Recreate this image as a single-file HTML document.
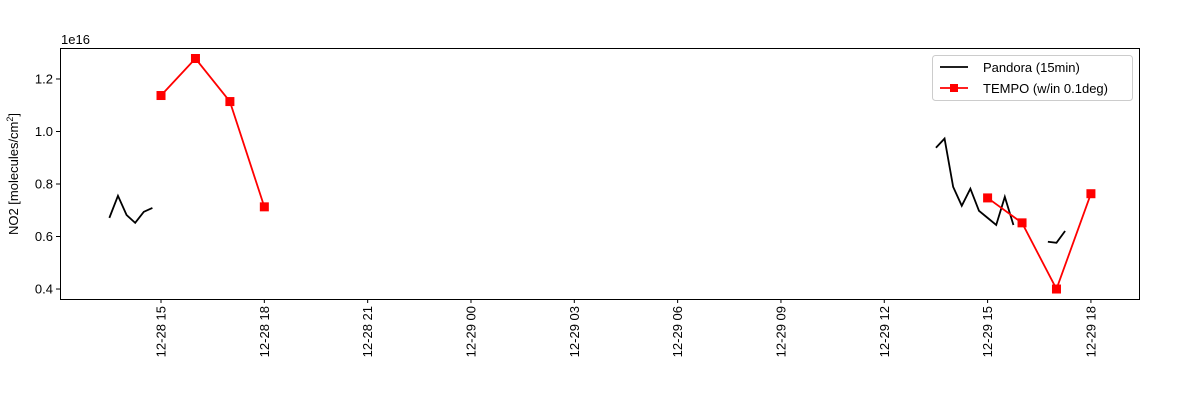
<!DOCTYPE html>
<html><head><meta charset="utf-8"><style>
html,body{margin:0;padding:0;background:#fff}
svg{display:block;font-family:"Liberation Sans","DejaVu Sans",sans-serif}
</style></head><body>
<svg id="chart" width="1200" height="400" viewBox="0 0 1200 400" xmlns="http://www.w3.org/2000/svg">
<rect x="0" y="0" width="1200" height="400" fill="#fff"/>
<g id="plot"></g>
<rect x="60.5" y="48.5" width="1079" height="251" fill="none" stroke="#000" stroke-width="1"/>
<text x="61" y="44" font-size="13">1e16</text>
<text transform="translate(18,174) rotate(-90)" text-anchor="middle" font-size="13">NO2 [molecules/cm<tspan dy="-5" font-size="9">2</tspan><tspan dy="5">]</tspan></text>
<g>
<rect x="932.5" y="55.5" width="200" height="45" rx="3" fill="#fff" fill-opacity="0.8" stroke="#ccc"/>
<line x1="940" y1="67" x2="968" y2="67" stroke="#000" stroke-width="1.8"/>
<text x="983" y="72" font-size="13">Pandora (15min)</text>
<line x1="940" y1="88" x2="968" y2="88" stroke="#f00" stroke-width="1.8"/>
<rect x="950" y="84" width="8" height="8" fill="#f00"/>
<text x="983" y="93" font-size="13">TEMPO (w/in 0.1deg)</text>
</g>
</svg>
<script>
// time in hours since 12-28 00:00; values in 1e16 molecules/cm2
const pandoraSeg1Times=[13.5,13.75,14,14.25,14.5,14.75];
const pandoraSeg1Values=[0.671,0.755,0.682,0.652,0.694,0.709];
const pandoraSeg2Times=[37.5,37.75,38,38.25,38.5,38.75,39,39.25,39.5,39.75];
const pandoraSeg2Values=[0.938,0.973,0.789,0.717,0.782,0.698,0.671,0.644,0.751,0.644];
const pandoraSeg3Times=[40.75,41,41.25];
const pandoraSeg3Values=[0.580,0.576,0.621];
const tempoSeg1Times=[15,16,17,18];
const tempoSeg1Values=[1.137,1.278,1.114,0.713];
const tempoSeg2Times=[39,40,41,42];
const tempoSeg2Values=[0.747,0.652,0.400,0.763];
const yTickValues=[0.4,0.6,0.8,1.0,1.2];
const yTickLabels=["0.4","0.6","0.8","1.0","1.2"];
const xTickHours=[15,18,21,24,27,30,33,36,39,42];
const xTickLabels=["12-28 15","12-28 18","12-28 21","12-29 00","12-29 03","12-29 06","12-29 09","12-29 12","12-29 15","12-29 18"];

const NS="http://www.w3.org/2000/svg";
const X0=60,X1=1140,Y0=299,Y1=48;
const tMin=12.067,tMax=43.425,vMin=0.362,vMax=1.318;
function xs(t){return X0+(t-tMin)/(tMax-tMin)*(X1-X0);}
function ys(v){return Y0-(v-vMin)/(vMax-vMin)*(Y0-Y1);}
const svg=document.getElementById('chart');
const plot=document.getElementById('plot');
function mk(tag,attrs,parent){const e=document.createElementNS(NS,tag);for(const k in attrs)e.setAttribute(k,attrs[k]);(parent||svg).appendChild(e);return e;}

yTickValues.forEach((v,i)=>{
  const y=ys(v);
  const tk=mk('line',{x1:X0-4,x2:X0,y1:y,y2:y,stroke:'#000'});
  
  
  const lb=mk('text',{x:X0-7,y:y+4.5,'text-anchor':'end','font-size':13});
  
  
  lb.textContent=yTickLabels[i];
});
xTickHours.forEach((h,i)=>{
  const x=xs(h);
  const tk=mk('line',{x1:x,x2:x,y1:Y0,y2:Y0+4,stroke:'#000'});
  
  
  const lb=mk('text',{transform:`translate(${x+4.5},${Y0+7}) rotate(-90)`,'text-anchor':'end','font-size':13});
  
  
  lb.textContent=xTickLabels[i];
});
function line(ts,vs,color,name){
  const p=mk('polyline',{points:ts.map((t,i)=>xs(t)+','+ys(vs[i])).join(' '),fill:'none',stroke:color,'stroke-width':1.8},plot);
  
  
}
function markers(ts,vs,name){
  ts.forEach((t,i)=>{
    const r=mk('rect',{x:xs(t)-4.5,y:ys(vs[i])-4.5,width:9,height:9,fill:'#f00'},plot);
    
    
  });
}
line(pandoraSeg1Times,pandoraSeg1Values,'#000','pandora-line-1');
line(pandoraSeg2Times,pandoraSeg2Values,'#000','pandora-line-2');
line(pandoraSeg3Times,pandoraSeg3Values,'#000','pandora-line-3');
line(tempoSeg1Times,tempoSeg1Values,'#f00','tempo-line-1');
line(tempoSeg2Times,tempoSeg2Values,'#f00','tempo-line-2');
markers(tempoSeg1Times,tempoSeg1Values,'tempo-marker');
markers(tempoSeg2Times,tempoSeg2Values,'tempo-marker');
</script>
</body></html>
